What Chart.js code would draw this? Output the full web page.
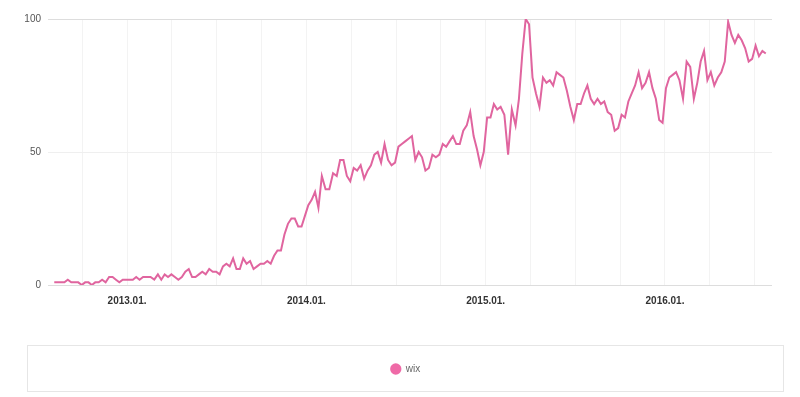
<!DOCTYPE html>
<html>
<head>
<meta charset="utf-8">
<script src="https://cdn.jsdelivr.net/npm/chart.js@4.4.1/dist/chart.umd.min.js"></script>
<style>
  html, body { margin: 0; padding: 0; background: #fff; }
  #wrap { width: 800px; height: 397px; }
</style>
</head>
<body>
<div id="wrap"><canvas id="trend-canvas" width="800" height="397"></canvas></div>
<script>
// weekly search interest, one value per week starting at firstWeek
const seriesName = "wix";
const firstWeek = "2012-08-05";
const axisStart = "2012-07-23";
const axisEnd = "2016-08-06";
const yTicks = [0, 50, 100];
const wixValues = [
  1, 1, 1, 1, 2, 1, 1, 1, 0, 1, 1, 0, 1, 1, 2, 1, 3, 3, 2, 1,
  2, 2, 2, 2, 3, 2, 3, 3, 3, 2, 4, 2, 4, 3, 4, 3, 2, 3, 5, 6,
  3, 3, 4, 5, 4, 6, 5, 5, 4, 7, 8, 7, 10, 6, 6, 10, 8, 9, 6, 7,
  8, 8, 9, 8, 11, 13, 13, 19, 23, 25, 25, 22, 22, 26, 30, 32, 35, 29, 41, 36,
  36, 42, 41, 47, 47, 41, 39, 44, 43, 45, 40, 43, 45, 49, 50, 46, 53, 47, 45, 46,
  52, 53, 54, 55, 56, 47, 50, 48, 43, 44, 49, 48, 49, 53, 52, 54, 56, 53, 53, 58,
  60, 65, 56, 51, 45, 50, 63, 63, 68, 66, 67, 64, 49, 66, 60, 70, 87, 100, 98, 78,
  72, 67, 78, 76, 77, 75, 80, 79, 78, 73, 67, 62, 68, 68, 72, 75, 70, 68, 70, 68,
  69, 65, 64, 58, 59, 64, 63, 69, 72, 75, 80, 74, 76, 80, 74, 70, 62, 61, 74, 78,
  79, 80, 77, 70, 84, 82, 70, 76, 84, 88, 77, 80, 75, 78, 80, 84, 99, 94, 91, 94,
  92, 89, 84, 85, 90, 86, 88, 87
];

const lineColor = "#e0659f";
const dotColor = "#ef6aa7";
const canvas = document.querySelector("#trend-canvas");

// months since 2012.01 so the x axis can be a plain linear scale
function toMonths(dateText) {
  const d = new Date(dateText + "T00:00:00Z");
  const y = d.getUTCFullYear();
  const m = d.getUTCMonth();
  const days = new Date(Date.UTC(y, m + 1, 0)).getUTCDate();
  return (y - 2012) * 12 + m + (d.getUTCDate() - 1) / days;
}

function weekDate(i) {
  const d = new Date(firstWeek + "T00:00:00Z");
  d.setUTCDate(d.getUTCDate() + i * 7);
  return d.toISOString().slice(0, 10);
}

const points = wixValues.map((v, i) => ({ x: toMonths(weekDate(i)), y: v }));
const xMin = toMonths(axisStart);
const xMax = toMonths(axisEnd);

// box round the legend, legend centred inside it
const FRAME_LEFT = 27;
const FRAME_RIGHT = 784;
const legendFrame = {
  id: "legendFrame",
  afterLayout(chart) {
    chart.legend.left = FRAME_LEFT;
    chart.legend.right = FRAME_RIGHT;
  },
  afterDraw(chart) {
    const lg = chart.legend;
    const ctx = chart.ctx;
    const top = Math.round(lg.top);
    ctx.save();
    ctx.strokeStyle = "#e6e6e6";
    ctx.lineWidth = 1;
    ctx.strokeRect(FRAME_LEFT + 0.5, top + 0.5, FRAME_RIGHT - FRAME_LEFT - 1, chart.height - 5 - top - 1);
    ctx.restore();
  }
};

const tickFont = { family: "'Liberation Sans', Arial, sans-serif", size: 10 };

new Chart(canvas, {
  type: "line",
  data: {
    datasets: [
      {
        label: seriesName,
        data: points,
        borderColor: lineColor,
        backgroundColor: dotColor,
        borderWidth: 2,
        pointRadius: 0,
        tension: 0,
        fill: false,
      },
    ],
  },
  options: {
    responsive: false,
    animation: false,
    devicePixelRatio: 1,
    layout: { padding: { top: 19, right: 28, bottom: 13, left: 0 } },
    plugins: {
      tooltip: { enabled: false },
      legend: {
        position: "bottom",
        labels: {
          usePointStyle: true,
          pointStyle: "circle",
          boxHeight: 8,
          padding: 19,
          color: "#666",
          font: tickFont,
          generateLabels(chart) {
            return chart.data.datasets.map((ds, i) => ({
              text: ds.label,
              fillStyle: dotColor,
              strokeStyle: dotColor,
              lineWidth: 0,
              pointStyle: "circle",
              fontColor: "#666",
              datasetIndex: i,
            }));
          },
        },
      },
    },
    scales: {
      x: {
        type: "linear",
        min: xMin,
        max: xMax,
        afterBuildTicks(scale) {
          const ticks = [];
          for (let m = Math.ceil(xMin / 3) * 3; m <= xMax; m += 3) ticks.push({ value: m });
          scale.ticks = ticks;
        },
        afterFit(scale) {
          scale.height = 60;
        },
        grid: { color: "#f3f3f3", drawTicks: false },
        border: { display: false },
        ticks: {
          autoSkip: false,
          maxRotation: 0,
          padding: 10,
          color: "#333",
          font: { ...tickFont, weight: "bold" },
          callback(value) {
            if (value % 12 !== 0) return "";
            return (2012 + value / 12) + ".01.";
          },
        },
      },
      y: {
        min: 0,
        max: 100,
        afterBuildTicks(scale) {
          scale.ticks = yTicks.map((v) => ({ value: v }));
        },
        afterFit(scale) {
          scale.width = 48;
        },
        grid: {
          drawTicks: false,
          color(ctx) {
            return ctx.tick && ctx.tick.value === 50 ? "#efefef" : "#dddddd";
          },
        },
        border: { display: false },
        ticks: { padding: 7, color: "#555", font: tickFont },
      },
    },
  },
  plugins: [legendFrame],
});
</script>
</body>
</html>
